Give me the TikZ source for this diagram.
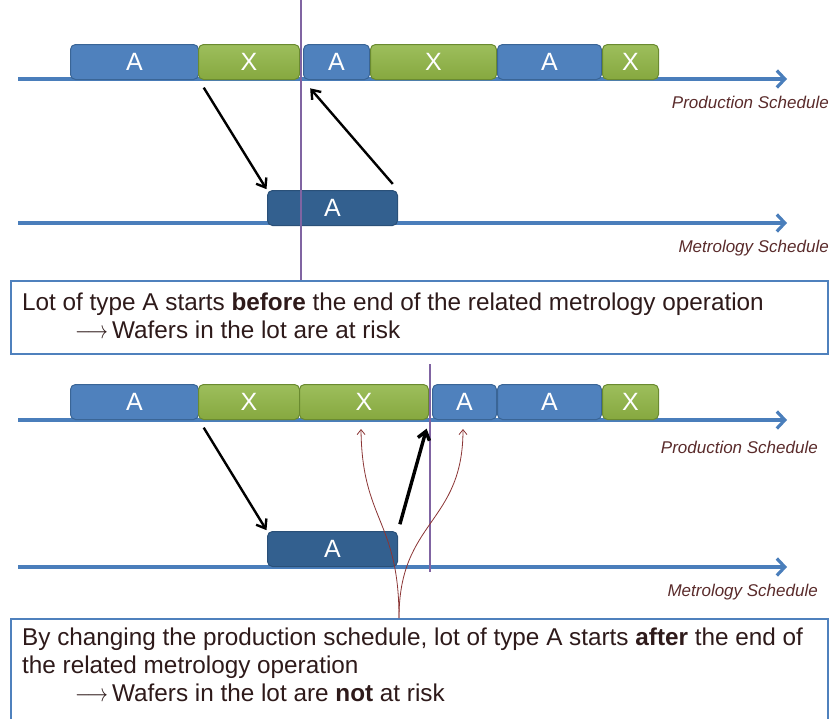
\documentclass[tikz,border=0pt]{standalone}
\usepackage{fontspec}
\usepackage{graphicx}
\setmainfont{Liberation Sans}
\usetikzlibrary{arrows.meta}

\definecolor{lotblue}{HTML}{4F81BD}
\definecolor{lotblueedge}{HTML}{3A6596}
\definecolor{lotgreen}{HTML}{86A83F}
\definecolor{lotgreenlight}{HTML}{9DBE5C}
\definecolor{lotgreenedge}{HTML}{6A8A30}
\definecolor{metblue}{HTML}{33608F}
\definecolor{metblueedge}{HTML}{2A5078}
\definecolor{axisblue}{HTML}{4A7EBB}
\definecolor{cutpurple}{HTML}{8064A2}
\definecolor{labelbrown}{HTML}{5A2B2B}
\definecolor{notetextc}{HTML}{2E1A1A}
\definecolor{riskred}{HTML}{8B3535}

\begin{document}
\begin{tikzpicture}[x=1pt,y=-1pt,
  lot/.style={rounded corners=5pt, line width=1pt, inner sep=0pt,
    minimum height=35pt, anchor=north west, text=white,
    font=\fontsize{25}{25}\selectfont},
  lotA/.style={lot, draw=lotblueedge, fill=lotblue},
  lotX/.style={lot, draw=lotgreenedge, top color=lotgreenlight, bottom color=lotgreen},
  metA/.style={lot, draw=metblueedge, fill=metblue},
  axisline/.style={line width=3.2pt, draw=axisblue,
    -{Straight Barb[length=8pt,width=17pt,line width=3.2pt]}},
  axislabel/.style={anchor=east, inner sep=0pt, text=labelbrown,
    font=\fontsize{17}{17}\selectfont\itshape},
  cutline/.style={line width=2.3pt, draw=cutpurple},
  flow/.style={line width=2.4pt, draw=black,
    -{Straight Barb[length=8pt,width=12pt]}},
  flowbold/.style={flow, line width=3.4pt},
  risk/.style={line width=0.8pt, draw=riskred,
    -{Straight Barb[length=5pt,width=8pt]}},
  noteframe/.style={draw=lotblue, line width=2pt, fill=white, inner sep=0pt, anchor=north west},
  notetext/.style={anchor=base west, inner sep=0pt, align=left, text=notetextc,
    font=\fontsize{24.3}{28}\selectfont},
]
\useasboundingbox (0,0) rectangle (833,718);

% ---------- first schedule: lot A starts too early ----------
\coordinate (prod1s) at (18,79);
\coordinate (prod1e) at (787,79);
\coordinate (met1s) at (18,223);
\coordinate (met1e) at (787,223);
\draw[axisline] (prod1s) -- (prod1e);
\draw[axisline] (met1s) -- (met1e);

\node[lotA, minimum width=128pt] (p1a1) at (70,44) {A};
\node[lotX, minimum width=101pt] (p1x1) at (198,44) {X};
\node[lotA, minimum width=66pt]  (p1a2) at (303,44) {A};
\node[lotX, minimum width=126pt] (p1x2) at (370,44) {X};
\node[lotA, minimum width=104pt] (p1a3) at (497,44) {A};
\node[lotX, minimum width=56pt]  (p1x3) at (602,44) {X};

\node[metA, minimum width=130pt] (m1) at (267,190) {A};

\node[axislabel] (prodlab1) at (829,102) {Production Schedule};
\node[axislabel] (metlab1) at (829,248) {Metrology Schedule};

\node[noteframe, minimum width=817pt, minimum height=73pt] (note1) at (10,280) {};
% a multi-line node sits on the baseline of its last line
\node[notetext] (note1txt) at (22,338)
  {Lot of type A starts \textbf{before} the end of the related metrology operation\\
   \hspace*{53pt}\scalebox{0.82}[1]{$\longrightarrow$}\,Wafers in the lot are at risk};

\coordinate (cut1) at (301,0);
\draw[cutline] (cut1) -- (cut1 |- note1.north);

\draw[flow, shorten <=9pt, shorten >=1pt] (p1a1.south east) -- (m1.north west);
\draw[flow, shorten <=8pt, shorten >=11pt] (m1.north east) -- (p1a2.south west);

% ---------- second schedule: lot A moved after the metrology ----------
\coordinate (prod2s) at (18,420);
\coordinate (prod2e) at (787,420);
\coordinate (met2s) at (18,567);
\coordinate (met2e) at (787,567);
\draw[axisline] (prod2s) -- (prod2e);
\draw[axisline] (met2s) -- (met2e);

\node[lotA, minimum width=128pt] (p2a1) at (70,384) {A};
\node[lotX, minimum width=101pt] (p2x1) at (198,384) {X};
\node[lotX, minimum width=129pt] (p2x2) at (299,384) {X};
\node[lotA, minimum width=64pt]  (p2a2) at (432,384) {A};
\node[lotA, minimum width=104pt] (p2a3) at (497,384) {A};
\node[lotX, minimum width=56pt]  (p2x3) at (602,384) {X};

\node[metA, minimum width=130pt] (m2) at (267,531) {A};

\node[axislabel] (prodlab2) at (818,447) {Production Schedule};
\node[axislabel] (metlab2) at (818,592) {Metrology Schedule};

\node[noteframe, minimum width=817pt, minimum height=112pt] (note2) at (10,618) {};
\node[notetext] (note2txt) at (22,701)
  {By changing the production schedule, lot of type A starts \textbf{after} the end of\\
   the related metrology operation\\
   \hspace*{53pt}\scalebox{0.82}[1]{$\longrightarrow$}\,Wafers in the lot are \textbf{not} at risk};

\coordinate (cut2) at (430,364);
\draw[cutline] (cut2) -- (430,572);

\draw[flow, shorten <=9pt, shorten >=1pt] (p2a1.south east) -- (m2.north west);
\draw[flowbold, shorten <=7pt, shorten >=9pt] (m2.north east) -- (p2x2.south east);

% the two possible positions of the lot, pointed at from the note
\coordinate (fork) at (399,618);
\coordinate (tipL) at (361,429);
\coordinate (tipR) at (463,429);
\draw[risk] (fork) .. controls +(0,-98) and +(1,92) .. (tipL);
\draw[risk] (fork) .. controls +(0,-98) and +(0,95) .. (tipR);
\end{tikzpicture}
\end{document}
